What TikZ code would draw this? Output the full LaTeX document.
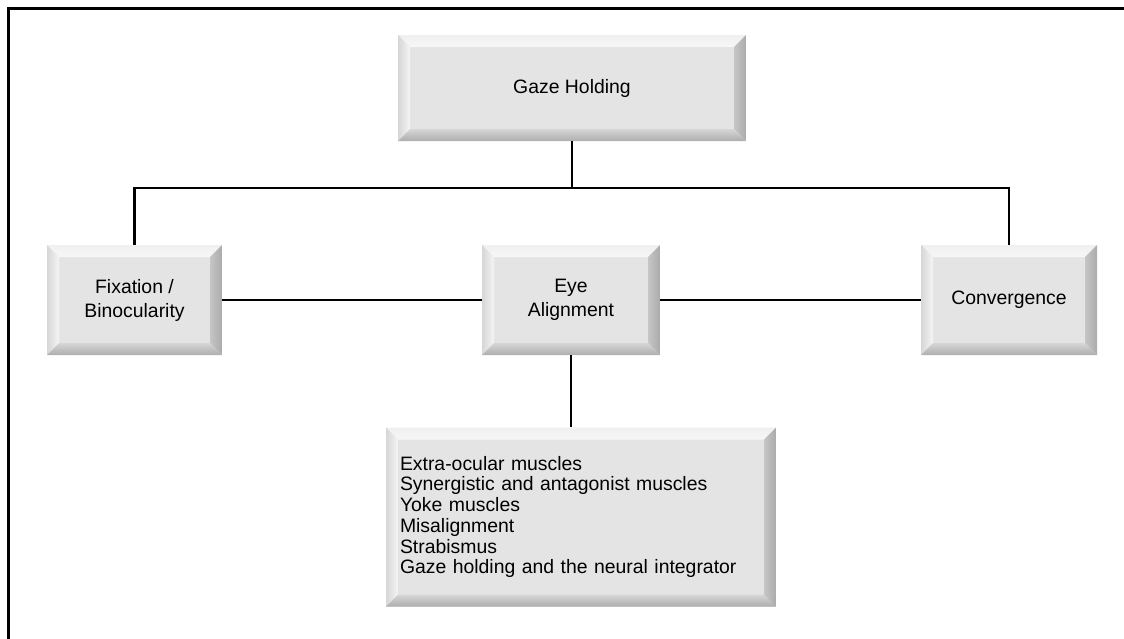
\documentclass[tikz,border=0pt]{standalone}
\usepackage{fontspec}
\setmainfont{Liberation Sans}
\usetikzlibrary{calc}
\definecolor{face}{HTML}{E4E4E4}
\newcommand{\bvw}{12pt}
\tikzset{
  bevelbox/.style={
    fill=face, draw=none, inner sep=0pt, align=center,
    font=\fontsize{19.4}{24}\selectfont,
    path picture={
      \path (path picture bounding box.north west) coordinate (pA)
            (path picture bounding box.north east) coordinate (pB)
            (path picture bounding box.south east) coordinate (pC)
            (path picture bounding box.south west) coordinate (pD);
      % top bevel
      \shade[top color=gray!12, middle color=white, bottom color=gray!6]
        (pA) -- (pB) -- ([shift={(-\bvw,-\bvw)}]pB) -- ([shift={(\bvw,-\bvw)}]pA) -- cycle;
      % left bevel
      \shade[left color=gray!32, right color=gray!8]
        (pA) -- ([shift={(\bvw,-\bvw)}]pA) -- ([shift={(\bvw,\bvw)}]pD) -- (pD) -- cycle;
      % right bevel
      \shade[left color=gray!45, right color=gray!66]
        (pB) -- (pC) -- ([shift={(-\bvw,\bvw)}]pC) -- ([shift={(-\bvw,-\bvw)}]pB) -- cycle;
      % bottom bevel
      \shade[top color=gray!32, bottom color=gray!64]
        (pD) -- (pC) -- ([shift={(-\bvw,\bvw)}]pC) -- ([shift={(\bvw,\bvw)}]pD) -- cycle;
    }
  },
  link/.style={line width=2.4pt, black}
}
\begin{document}
\begin{tikzpicture}[x=1pt, y=-1pt]
  \useasboundingbox (0,0) rectangle (1124,638);
  \begin{scope}
    \clip (0,0) rectangle (1124,638);
    \draw[line width=3pt] (8.5,8.5) rectangle (1140,660);
  \end{scope}

  \node[bevelbox, minimum width=348pt, minimum height=106pt] (gaze) at (572,88) {Gaze Holding};
  \node[bevelbox, minimum width=175pt, minimum height=110pt] (fix) at (134.5,300) {Fixation /\\Binocularity};
  \node[bevelbox, minimum width=178pt, minimum height=110pt] (eye) at (571,300) {Eye\\Alignment};
  \node[bevelbox, minimum width=176pt, minimum height=110pt] (conv) at (1009,300) {Convergence};
  \node[bevelbox, minimum width=390pt, minimum height=179pt, text width=362pt,
        inner xsep=14pt, align=left, font=\fontsize{19.4}{20.7}\selectfont] (list) at (581,517)
    {Extra-ocular muscles\\
     Synergistic and antagonist muscles\\
     Yoke muscles\\
     Misalignment\\
     Strabismus\\
     Gaze holding and the neural integrator};

  \coordinate (bus) at (572,188);
  \draw[link] (gaze.south) -- (bus);
  \draw[link] (fix.north) -- (fix.north |- bus) -- (conv.north |- bus) -- (conv.north);
  \draw[link] (fix) -- (eye);
  \draw[link] (eye) -- (conv);
  \draw[link] (eye.south) -- (eye.south |- list.north);
\end{tikzpicture}
\end{document}
